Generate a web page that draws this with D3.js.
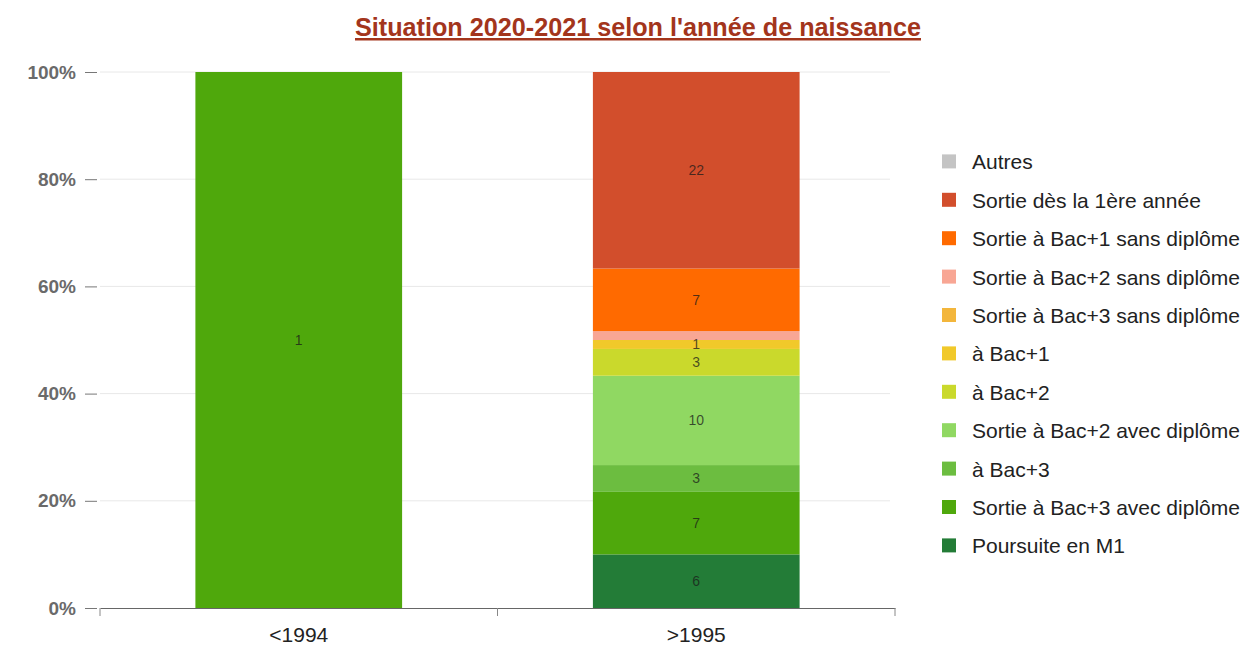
<!DOCTYPE html>
<html>
<head>
<meta charset="utf-8">
<script src="https://cdn.jsdelivr.net/npm/d3@7"></script>
<style>
  body { margin: 0; background: #fff; }
  svg { font-family: "Liberation Sans", Arial, sans-serif; }
</style>
</head>
<body>
<div id="chart"></div>
<script>
// data
const categories = ["<1994", ">1995"];
const seriesNames = [
  "Autres",
  "Sortie dès la 1ère année",
  "Sortie à Bac+1 sans diplôme",
  "Sortie à Bac+2 sans diplôme",
  "Sortie à Bac+3 sans diplôme",
  "à Bac+1",
  "à Bac+2",
  "Sortie à Bac+2 avec diplôme",
  "à Bac+3",
  "Sortie à Bac+3 avec diplôme",
  "Poursuite en M1"
];
const seriesColors = [
  "#c4c4c4", "#d24e2c", "#ff6a00", "#f8a694", "#f3b63c", "#f1c92a",
  "#cad92c", "#90d862", "#6cbd40", "#4fa80c", "#237c37"
];
const values1994 = [0, 0, 0, 0, 0, 0, 0, 0, 0, 1, 0];
const values1995 = [0, 22, 7, 1, 0, 1, 3, 10, 3, 7, 6];
const yTicks = [0, 0.2, 0.4, 0.6, 0.8, 1];
const titleText = "Situation 2020-2021 selon l'année de naissance";

const width = 1250;
const height = 645;
const plot = {left: 100, right: 895, top: 72, bottom: 608};

const rows = categories.map((c, i) => {
  const vals = i === 0 ? values1994 : values1995;
  const r = {cat: c};
  seriesNames.forEach((s, j) => r[s] = vals[j]);
  return r;
});

const colorScale = d3.scaleOrdinal().domain(seriesNames).range(seriesColors);

// first series sits on top, so stack in reverse
const stackKeys = seriesNames.slice().reverse();
const stacked = d3.stack().keys(stackKeys).offset(d3.stackOffsetExpand)(rows);

const x = d3.scaleBand().domain(categories).range([plot.left, plot.right]).paddingInner(0.48).paddingOuter(0.24);
const y = d3.scaleLinear().domain([0, 1]).range([plot.bottom, plot.top]);

const svg = d3.select("#chart").append("svg")
  .attr("width", width)
  .attr("height", height)
  .attr("viewBox", [0, 0, width, height]);

// title
svg.append("text")
  .attr("x", 638)
  .attr("y", 36)
  .attr("text-anchor", "middle")
  .attr("font-size", 25)
  .attr("font-weight", "bold")
  .attr("fill", "#a3351c")
  .attr("text-decoration", "underline")
  .attr("textLength", 566)
  .attr("lengthAdjust", "spacingAndGlyphs")
  .text(titleText);

// gridlines
svg.append("g")
  .selectAll("line")
  .data(yTicks.filter(t => t > 0))
  .join("line")
  .attr("x1", plot.left)
  .attr("x2", plot.right - 5)
  .attr("y1", d => y(d))
  .attr("y2", d => y(d))
  .attr("stroke", "#e8e8e8")
  .attr("stroke-width", 1);

// y axis
const yAxis = svg.append("g")
  .attr("transform", `translate(${plot.left - 3},0)`)
  .call(d3.axisLeft(y).tickValues(yTicks).tickFormat(d3.format(".0%")).tickSize(12).tickPadding(9));
yAxis.select(".domain").remove();
yAxis.selectAll(".tick line").attr("stroke", "#777");
yAxis.selectAll(".tick text")
  .attr("font-size", 19)
  .attr("font-weight", "bold")
  .attr("font-family", "Liberation Sans, Arial, sans-serif")
  .attr("fill", "#6a6a6a");

// bars
const layer = svg.append("g")
  .selectAll("g")
  .data(stacked)
  .join("g")
  .attr("fill", d => colorScale(d.key));

layer.selectAll("rect")
  .data(d => d)
  .join("rect")
  .attr("x", d => x(d.data.cat))
  .attr("width", x.bandwidth())
  .attr("y", d => y(d[1]))
  .attr("height", d => Math.max(0, y(d[0]) - y(d[1])));

// data labels, bottom-up, skipping those that collide
categories.forEach(cat => {
  let lastY = null;
  stacked.forEach(s => {
    const d = s.find(p => p.data.cat === cat);
    const v = d.data[s.key];
    if (!v) return;
    const cy = (y(d[0]) + y(d[1])) / 2;
    if (lastY !== null && Math.abs(lastY - cy) < 12) return;
    lastY = cy;
    svg.append("text")
      .attr("x", x(cat) + x.bandwidth() / 2)
      .attr("y", cy + 5)
      .attr("text-anchor", "middle")
      .attr("font-size", 14)
      .attr("fill", "#1a1a1a")
      .attr("fill-opacity", 0.75)
      .text(v);
  });
});

// x axis
const xAxis = svg.append("g")
  .attr("transform", `translate(0,${plot.bottom})`)
  .call(d3.axisBottom(x).tickSize(0).tickPadding(19));
xAxis.select(".domain").attr("stroke", "#666");
xAxis.selectAll(".tick text")
  .attr("font-size", 21)
  .attr("font-family", "Liberation Sans, Arial, sans-serif")
  .attr("fill", "#222");
svg.append("g")
  .selectAll("line")
  .data([plot.left, (plot.left + plot.right) / 2, plot.right])
  .join("line")
  .attr("x1", d => d)
  .attr("x2", d => d)
  .attr("y1", plot.bottom)
  .attr("y2", plot.bottom + 8)
  .attr("stroke", "#888");

// legend
const legend = svg.append("g")
  .attr("transform", "translate(942,161.4)")
  .selectAll("g")
  .data(seriesNames)
  .join("g")
  .attr("transform", (d, i) => `translate(0,${i * 38.4})`);
legend.append("rect")
  .attr("x", 0)
  .attr("y", -7)
  .attr("width", 14)
  .attr("height", 14)
  .attr("fill", d => colorScale(d));
legend.append("text")
  .attr("x", 30)
  .attr("y", 8)
  .attr("font-size", 21)
  .attr("fill", "#222")
  .text(d => d);
</script>
</body>
</html>
